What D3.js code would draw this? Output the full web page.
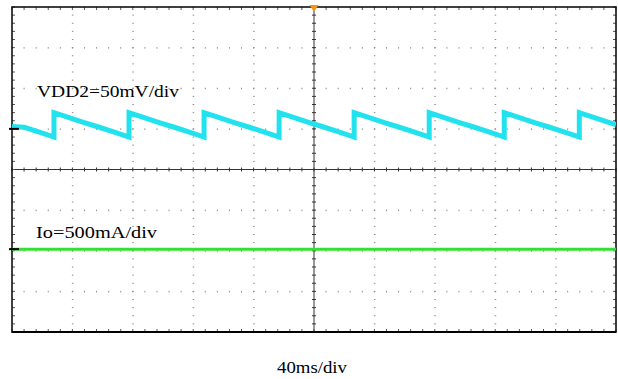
<!DOCTYPE html>
<html lang="en"><head>
<meta charset="utf-8">
<title>VDD2 ripple and Io</title>
<script src="https://cdn.jsdelivr.net/npm/d3@7"></script>
<style>
  body { margin: 0; background: #fff; }
  text { font-family: "Liberation Serif", "Times New Roman", serif; fill: #000; }
</style>
</head>
<body>
<div id="scope"></div>
<script>

// time base: 40 ms/div, 10 divisions
const timeDomain = [0, 400];
const msPerDiv = 40;

// VDD2 (50 mV/div): rising edges of the sawtooth (ms)
const vddEdges = [27.8, 77.5, 127.2, 176.9, 226.6, 276.3, 326.0, 375.7];
// one ramp after each edge: offset (ms) and value (mV)
const rampOffset = [0, 10, 20, 30, 40, 49.7];
const rampValue  = [20, 13.8, 7.8, 2, -4, -10];
// value at the left edge of the screen (mV)
const vddStart = 3;

// Io (500 mA/div): flat trace
const ioTime  = [0, 100, 200, 300, 400];
const ioValue = [0, 0, 0, 0, 0];

// channel ground markers in divisions from the centre
const vddOffsetDiv = 1.0;
const ioOffsetDiv = -1.96;
const vddPerDiv = 50;   // mV
const ioPerDiv = 500;   // mA

const labels = ["VDD2=50mV/div", "Io=500mA/div", "40ms/div"];

const W = 618, H = 379;
const plot = {left: 12, right: 616, top: 7, bottom: 332};

const svg = d3.select("#scope").append("svg")
  .attr("width", W).attr("height", H);

const x = d3.scaleLinear().domain(timeDomain).range([plot.left, plot.right]);
const y = d3.scaleLinear().domain([-4, 4]).range([plot.bottom, plot.top]);

// grid dots on the major lines
const majorX = d3.range(1, 10).map(i => i * msPerDiv).filter(t => t !== 200);
const majorY = [-3, -2, -1, 1, 2, 3];
const minorX = d3.range(0, 400.01, msPerDiv / 5);
const minorY = d3.range(-4, 4.01, 0.2);

const grid = svg.append("g").attr("fill", "#8a8a8a");
majorY.forEach(dv => {
  grid.selectAll(null).data(minorX).join("rect")
    .attr("x", t => x(t) - 0.5).attr("y", y(dv) - 0.5)
    .attr("width", 1).attr("height", 1.5);
});
majorX.forEach(t => {
  grid.selectAll(null).data(minorY).join("rect")
    .attr("x", x(t) - 0.5).attr("y", d => y(d) - 0.5)
    .attr("width", 1.5).attr("height", 1);
});

// centre cross with minor ticks
const cross = svg.append("g").attr("stroke", "#333").attr("stroke-width", 1);
cross.append("line").attr("x1", x(0)).attr("x2", x(400))
  .attr("y1", y(0)).attr("y2", y(0));
cross.append("line").attr("x1", x(200)).attr("x2", x(200))
  .attr("y1", y(-4)).attr("y2", y(4));
cross.selectAll(null).data(minorX).join("line")
  .attr("x1", t => x(t)).attr("x2", t => x(t))
  .attr("y1", y(0) - 2).attr("y2", y(0) + 2);
cross.selectAll(null).data(minorY).join("line")
  .attr("x1", x(200) - 2).attr("x2", x(200) + 2)
  .attr("y1", d => y(d)).attr("y2", d => y(d));

// frame ticks pointing inwards
const edgeTicks = svg.append("g").attr("stroke", "#555").attr("stroke-width", 1);
edgeTicks.selectAll(null).data(minorX).join("line")
  .attr("x1", t => x(t)).attr("x2", t => x(t))
  .attr("y1", y(4)).attr("y2", y(4) + 3);
edgeTicks.selectAll(null).data(minorX).join("line")
  .attr("x1", t => x(t)).attr("x2", t => x(t))
  .attr("y1", y(-4)).attr("y2", y(-4) - 3);
edgeTicks.selectAll(null).data(minorY).join("line")
  .attr("x1", x(0)).attr("x2", x(0) + 3)
  .attr("y1", d => y(d)).attr("y2", d => y(d));
edgeTicks.selectAll(null).data(minorY).join("line")
  .attr("x1", x(400)).attr("x2", x(400) - 3)
  .attr("y1", d => y(d)).attr("y2", d => y(d));

// frame
svg.append("rect")
  .attr("x", x(0)).attr("y", y(4))
  .attr("width", x(400) - x(0)).attr("height", y(-4) - y(4))
  .attr("fill", "none").attr("stroke", "#111").attr("stroke-width", 1.6);
svg.append("line")
  .attr("x1", x(0)).attr("x2", x(400)).attr("y1", y(-4)).attr("y2", y(-4))
  .attr("stroke", "#000").attr("stroke-width", 2.2);

// build VDD2 trace points
const vddPts = [[0, vddStart]];
// tail of the ramp that started before the screen
const prevEdge = vddEdges[0] - rampOffset[rampOffset.length - 1];
rampOffset.forEach((o, i) => {
  const t = prevEdge + o;
  if (t > 0) vddPts.push([t, rampValue[i]]);
});
vddEdges.forEach(e => {
  rampOffset.forEach((o, i) => {
    const t = e + o;
    if (t <= 400) vddPts.push([t, rampValue[i]]);
  });
});
// last point at the right edge
const lastEdge = vddEdges[vddEdges.length - 1];
const lastVal = d3.scaleLinear().domain(rampOffset).range(rampValue)(400 - lastEdge);
vddPts.push([400, lastVal]);

const yV = v => y(v / vddPerDiv + vddOffsetDiv);
const yI = v => y(v / ioPerDiv + ioOffsetDiv);

svg.append("clipPath").attr("id", "clip").append("rect")
  .attr("x", x(0)).attr("y", y(4))
  .attr("width", x(400) - x(0)).attr("height", y(-4) - y(4));

svg.append("path")
  .datum(vddPts)
  .attr("clip-path", "url(#clip)")
  .attr("fill", "none").attr("stroke", "#22e2ee")
  .attr("stroke-width", 5).attr("stroke-linejoin", "miter")
  .attr("d", d3.line().x(d => x(d[0])).y(d => yV(d[1])));

svg.append("path")
  .datum(d3.zip(ioTime, ioValue))
  .attr("clip-path", "url(#clip)")
  .attr("fill", "none").attr("stroke", "#33e033")
  .attr("stroke-width", 3)
  .attr("d", d3.line().x(d => x(d[0])).y(d => yI(d[1])));

// ground markers
svg.append("g").attr("stroke", "#000").attr("stroke-width", 2)
  .selectAll("line").data([yV(0), yI(0)]).join("line")
  .attr("x1", x(0) - 3).attr("x2", x(0) + 7)
  .attr("y1", d => d).attr("y2", d => d);

// trigger marker
svg.append("path")
  .attr("fill", "#f7941d")
  .attr("d", `M${x(200) - 4.5},${y(4) - 2} L${x(200) + 4.5},${y(4) - 2} L${x(200)},${y(4) + 5} Z`);

// labels
svg.append("text").attr("x", 37).attr("y", 97)
  .style("font-size", "16.5px")
  .attr("textLength", 142).attr("lengthAdjust", "spacingAndGlyphs")
  .text(labels[0]);
svg.append("text").attr("x", 36).attr("y", 238)
  .style("font-size", "16.5px")
  .attr("textLength", 121).attr("lengthAdjust", "spacingAndGlyphs")
  .text(labels[1]);
svg.append("text").attr("x", 277).attr("y", 373)
  .style("font-size", "17.5px")
  .attr("textLength", 70).attr("lengthAdjust", "spacingAndGlyphs")
  .text(labels[2]);

</script>
</body>
</html>
